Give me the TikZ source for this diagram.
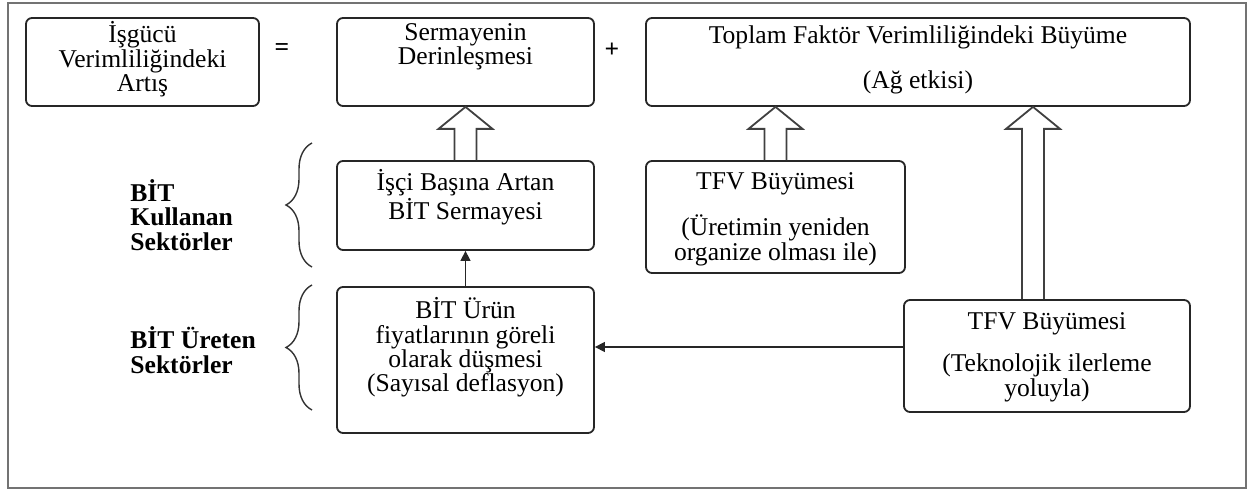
\documentclass[tikz,border=0pt]{standalone}
\usepackage{fontspec}
\setmainfont{Liberation Serif}
\usetikzlibrary{arrows.meta,calc,decorations.pathreplacing}

\tikzset{
  box/.style={draw=black!85, line width=0.9pt, rounded corners=3pt, inner sep=0pt},
  boxtext/.style={anchor=north, align=center, inner sep=0pt},
  sidelabel/.style={anchor=west, align=left, inner sep=0pt, font=\fontsize{12.8}{12.2}\selectfont\bfseries},
  hollow/.style={draw=black!75, line width=0.9pt},
  thinarrow/.style={draw=black!85, line width=0.7pt, -{Triangle[length=5pt,width=5pt]}},
  sidebrace/.style={draw=black!80, line width=0.7pt, decorate, decoration={brace, amplitude=13pt}},
  frame/.style={draw=black!55, line width=1.4pt}
}
% open block arrow pointing up, from #1 to #2
\newcommand{\hollowup}[2]{%
  \draw[hollow] let \p1=(#1), \p2=(#2) in
    (\x1-5.5pt,\y1) -- (\x1-5.5pt,\y2-11pt) -- (\x1-13.5pt,\y2-11pt) -- (\x1,\y2)
    -- (\x1+13.5pt,\y2-11pt) -- (\x1+5.5pt,\y2-11pt) -- (\x1+5.5pt,\y1);}

\begin{document}
\begin{tikzpicture}[x=0.5pt, y=-0.5pt, font=\fontsize{12.8}{12.2}\selectfont]
\useasboundingbox (0,0) rectangle (1252,490);
\draw[frame] (8,3) rectangle (1246,488);

%top row
\path (142.5,62) node (A) [box, minimum width=116.5pt, minimum height=44pt] {};
\path (465.5,62) node (B) [box, minimum width=128.5pt, minimum height=44pt] {};
\path (918,62) node (C) [box, minimum width=272pt, minimum height=44pt] {};
\path (282,50) node (eq) {\textbf{=}};
\path (612,50) node (plus) {\textbf{+}};

\path ([yshift=-2pt]A.north) node (Atext) [boxtext] {İşgücü\\Verimliliğindeki\\Artış};
\path ([yshift=-3pt]B.north) node (Btext) [boxtext] {Sermayenin\\Derinleşmesi};
\path ([yshift=-4pt]C.north) node (Ctext) [boxtext] {Toplam Faktör Verimliliğindeki Büyüme\\[10.5pt](Ağ etkisi)};

%middle and bottom
\path (465.5,205.5) node (D) [box, minimum width=128.5pt, minimum height=44.5pt] {};
\path (775.5,217) node (E) [box, minimum width=129.5pt, minimum height=56pt] {};
\path (1047,356) node (F) [box, minimum width=143pt, minimum height=56pt] {};
\path (465.5,360) node (G) [box, minimum width=128.5pt, minimum height=73pt] {};

\path ([yshift=-4.5pt]D.north) node (Dtext) [boxtext] {İşçi Başına Artan\\BİT Sermayesi};
\path ([yshift=-6pt]E.north) node (Etext) [boxtext] {TFV Büyümesi\\[9pt](Üretimin yeniden\\organize olması ile)};
\path ([yshift=-6.5pt]F.north) node (Ftext) [boxtext] {TFV Büyümesi\\[9pt](Teknolojik ilerleme\\yoluyla)};
\path ([yshift=-5.5pt]G.north) node (Gtext) [boxtext] {BİT Ürün\\fiyatlarının göreli\\olarak düşmesi\\(Sayısal deflasyon)};

\path (130,215) node (use) [sidelabel] {BİT\\Kullanan\\Sektörler};
\path (130,350) node (make) [sidelabel] {BİT Üreten\\Sektörler};

\draw[sidebrace] (312,267) -- (312,143);
\draw[sidebrace] (312,410) -- (312,285);

\hollowup{D.north}{B.south}
\hollowup{E.north}{C.south -| E.north}
\hollowup{$(F.north)+(-7pt,0)$}{C.south -| 1033,0}

\draw[thinarrow] (G) -- (D);
\draw[thinarrow] ([yshift=4.5pt]F.west) -- ([yshift=4.5pt]F.west -| G.east);

\end{tikzpicture}
\end{document}
